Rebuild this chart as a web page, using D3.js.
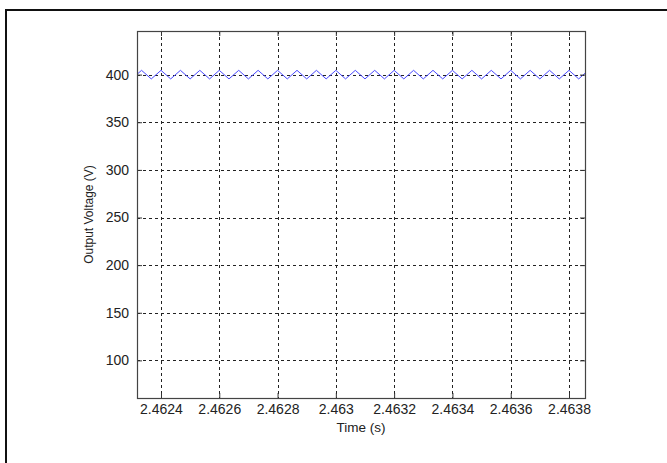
<!DOCTYPE html>
<meta charset="utf-8">
<style>
  body { margin: 0; background: #fff; font-family: Arial, "Liberation Sans", sans-serif; }
  .grid line { stroke: #222; stroke-width: 1; stroke-dasharray: 3,3; }
  .tick-lab { font-size: 14px; fill: #222; }
</style>
<body></body>
<script src="https://d3js.org/d3.v7.min.js"></script>
<script>
  // ripple vertices (time in s, voltage in V)
  var times = [2.46232, 2.4623333, 2.4623667, 2.4624000, 2.4624333, 2.4624667, 2.4625000,
    2.4625333, 2.4625667, 2.4626000, 2.4626333, 2.4626667, 2.4627000, 2.4627333,
    2.4627667, 2.4628000, 2.4628333, 2.4628667, 2.4629000, 2.4629333, 2.4629667,
    2.4630000, 2.4630333, 2.4630667, 2.4631000, 2.4631333, 2.4631667, 2.4632000,
    2.4632333, 2.4632667, 2.4633000, 2.4633333, 2.4633667, 2.4634000, 2.4634333,
    2.4634667, 2.4635000, 2.4635333, 2.4635667, 2.4636000, 2.4636333, 2.4636667,
    2.4637000, 2.4637333, 2.4637667, 2.4638000, 2.4638333, 2.463855];
  var volts = [400.9, 404.5, 395.5, 404.5, 395.5, 404.5, 395.5,
    404.5, 395.5, 404.5, 395.5, 404.5, 395.5, 404.5,
    395.5, 404.5, 395.5, 404.5, 395.5, 404.5, 395.5,
    404.5, 395.5, 404.5, 395.5, 404.5, 395.5, 404.5,
    395.5, 404.5, 395.5, 404.5, 395.5, 404.5, 395.5,
    404.5, 395.5, 404.5, 395.5, 404.5, 395.5, 404.5,
    395.5, 404.5, 395.5, 404.5, 395.5, 401.4];
  var xTicks = [2.4624, 2.4626, 2.4628, 2.463, 2.4632, 2.4634, 2.4636, 2.4638];
  var yTicks = [100, 150, 200, 250, 300, 350, 400];

  var W = 667, H = 463;
  var box = { left: 137, top: 31, right: 585, bottom: 398 };

  var x = d3.scaleLinear().domain([2.4623177, 2.4638549]).range([box.left, box.right]);
  var y = d3.scaleLinear().domain([60.5, 445.8]).range([box.bottom, box.top]);

  var svg = d3.select("body").append("svg")
    .attr("width", W)
    .attr("height", H);

  // outer frame (top and left edges only visible)
  svg.append("path")
    .attr("d", "M6,463 V10 H667")
    .attr("fill", "none")
    .attr("stroke", "#111")
    .attr("stroke-width", 2);

  svg.append("rect")
    .attr("x", box.left).attr("y", box.top)
    .attr("width", box.right - box.left).attr("height", box.bottom - box.top)
    .attr("fill", "#fff");

  var grid = svg.append("g").attr("class", "grid");
  grid.selectAll(".vx").data(xTicks).enter().append("line")
    .attr("x1", function(d) { return Math.round(x(d)) + 0.5; })
    .attr("x2", function(d) { return Math.round(x(d)) + 0.5; })
    .attr("y1", box.top).attr("y2", box.bottom);
  grid.selectAll(".hy").data(yTicks).enter().append("line")
    .attr("y1", function(d) { return Math.round(y(d)) + 0.5; })
    .attr("y2", function(d) { return Math.round(y(d)) + 0.5; })
    .attr("x1", box.left).attr("x2", box.right);

  // signal
  var pts = times.map(function(t, i) { return [t, volts[i]]; });
  svg.append("defs").append("clipPath").attr("id", "clip")
    .append("rect")
    .attr("x", box.left).attr("y", box.top)
    .attr("width", box.right - box.left).attr("height", box.bottom - box.top);
  svg.append("path")
    .datum(pts)
    .attr("clip-path", "url(#clip)")
    .attr("fill", "none")
    .attr("stroke", "#4a4aff")
    .attr("stroke-width", 1)
    .attr("d", d3.line().x(function(d) { return x(d[0]); }).y(function(d) { return y(d[1]); }));

  // axes with inward ticks on all sides
  var tk = 5;
  var xAxis = d3.axisBottom(x).tickValues(xTicks).tickSizeInner(-tk).tickSizeOuter(0)
    .tickPadding(8).tickFormat(function(d) { return String(+d.toFixed(4)); });
  var yAxis = d3.axisLeft(y).tickValues(yTicks).tickSizeInner(-tk).tickSizeOuter(0).tickPadding(8);

  var gx = svg.append("g").attr("transform", "translate(0," + box.bottom + ")").call(xAxis);
  var gy = svg.append("g").attr("transform", "translate(" + box.left + ",0)").call(yAxis);
  var gx2 = svg.append("g").attr("transform", "translate(0," + box.top + ")")
    .call(d3.axisTop(x).tickValues(xTicks).tickSizeInner(-tk).tickSizeOuter(0).tickFormat(""));
  var gy2 = svg.append("g").attr("transform", "translate(" + box.right + ",0)")
    .call(d3.axisRight(y).tickValues(yTicks).tickSizeInner(-tk).tickSizeOuter(0).tickFormat(""));

  [gx, gy, gx2, gy2].forEach(function(g) {
    g.select(".domain").remove();
    g.selectAll("line").attr("stroke", "#333");
    g.selectAll("text").attr("class", "tick-lab")
      .style("font-family", "Arial, 'Liberation Sans', sans-serif");
  });
  gx.selectAll("text").attr("dy", "0.71em").attr("y", 6);

  svg.append("rect")
    .attr("x", box.left + 0.5).attr("y", box.top + 0.5)
    .attr("width", box.right - box.left).attr("height", box.bottom - box.top)
    .attr("fill", "none")
    .attr("stroke", "#444")
    .attr("stroke-width", 1.2);

  svg.append("text")
    .attr("x", (box.left + box.right) / 2)
    .attr("y", 432)
    .attr("text-anchor", "middle")
    .style("font-size", "13.5px")
    .style("fill", "#222")
    .text("Time (s)");

  svg.append("text")
    .attr("transform", "translate(93," + ((box.top + box.bottom) / 2) + ") rotate(-90)")
    .attr("text-anchor", "middle")
    .style("font-size", "12px")
    .style("fill", "#222")
    .text("Output Voltage (V)");
</script>
